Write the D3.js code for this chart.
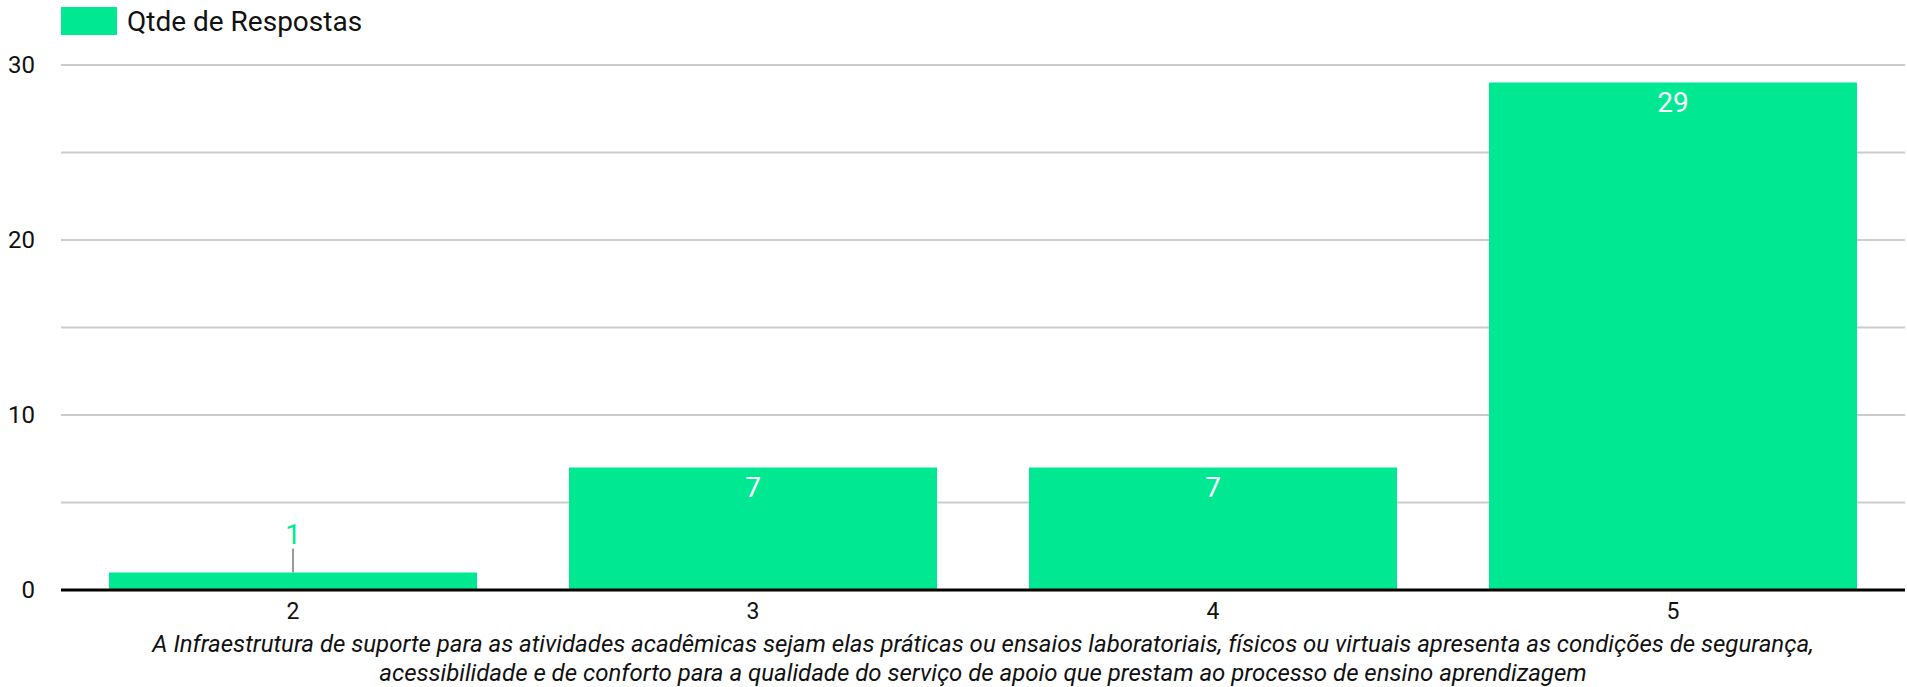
<!DOCTYPE html>
<html><head><meta charset="utf-8">
<script src="https://cdn.jsdelivr.net/npm/d3@7"></script>
<style>html,body{margin:0;padding:0;background:#fff;}svg{display:block;font-family:Roboto,sans-serif;}</style>
</head><body>
<svg id="c" width="1907" height="687"></svg>
<script>
const categories = ["2", "3", "4", "5"];
const values = [1, 7, 7, 29];
const yTicks = [0, 10, 20, 30];
const seriesName = "Qtde de Respostas";
const titleLines = [
  "A Infraestrutura de suporte para as atividades acadêmicas sejam elas práticas ou ensaios laboratoriais, físicos ou virtuais apresenta as condições de segurança,",
  "acessibilidade e de conforto para a qualidade do serviço de apoio que prestam ao processo de ensino aprendizagem"
];
const color = "#00e892";

(function () {
const svg = d3.select("#c");
const plotLeft = 61, plotRight = 1905, plotTop = 65, plotBottom = 590;
const ink = "#111";

const x = d3.scaleBand().domain(categories).range([63, 1903]).paddingInner(0.2).paddingOuter(0.1);
const y = d3.scaleLinear().domain([0, 30]).range([plotBottom, plotTop]);

const grid = d3.range(5, 31, 5);
svg.append("g").selectAll("line").data(grid).join("line")
  .attr("x1", plotLeft).attr("x2", plotRight)
  .attr("y1", d => y(d)).attr("y2", d => y(d))
  .attr("stroke", "#cccccc").attr("stroke-width", 2);

svg.append("g").selectAll("text").data(yTicks).join("text")
  .attr("x", 35).attr("y", d => y(d) + 8)
  .attr("text-anchor", "end").attr("font-size", 24).attr("fill", ink)
  .text(d => d);

svg.append("g").selectAll("rect").data(values).join("rect")
  .attr("x", (d, i) => x(categories[i]))
  .attr("width", x.bandwidth())
  .attr("y", d => y(d))
  .attr("height", d => plotBottom - y(d))
  .attr("fill", color);

values.forEach((v, i) => {
  const cx = x(categories[i]) + x.bandwidth() / 2;
  const h = plotBottom - y(v);
  if (h > 40) {
    svg.append("text").attr("x", cx).attr("y", y(v) + 29)
      .attr("text-anchor", "middle").attr("font-size", 28).attr("fill", "#fff").text(v);
  } else {
    svg.append("line").attr("x1", cx).attr("x2", cx)
      .attr("y1", y(v)).attr("y2", y(v) - 24)
      .attr("stroke", "#999").attr("stroke-width", 2);
    svg.append("text").attr("x", cx).attr("y", y(v) - 29)
      .attr("text-anchor", "middle").attr("font-size", 28).attr("fill", color).text(v);
  }
});

svg.append("line").attr("x1", plotLeft).attr("x2", plotRight)
  .attr("y1", plotBottom).attr("y2", plotBottom)
  .attr("stroke", "#000").attr("stroke-width", 3);

svg.append("g").selectAll("text").data(categories).join("text")
  .attr("x", d => x(d) + x.bandwidth() / 2).attr("y", 619)
  .attr("text-anchor", "middle").attr("font-size", 23).attr("fill", ink)
  .text(d => d);

svg.append("g").selectAll("text").data(titleLines).join("text")
  .attr("x", (plotLeft + plotRight) / 2).attr("y", (d, i) => 652 + i * 29)
  .attr("text-anchor", "middle").attr("font-size", 24).attr("font-style", "italic").attr("fill", ink)
  .text(d => d);

svg.append("rect").attr("x", 61).attr("y", 7).attr("width", 56).attr("height", 28).attr("fill", color);
svg.append("text").attr("x", 127).attr("y", 31).attr("font-size", 28).attr("fill", ink).text(seriesName);
})();
</script>
</body></html>
